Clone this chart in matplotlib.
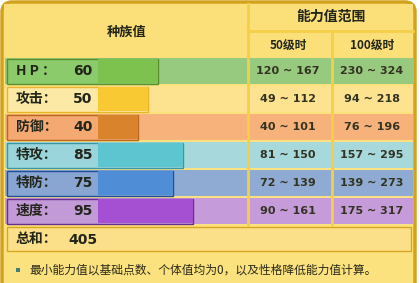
import matplotlib
matplotlib.use('Agg')
import matplotlib.pyplot as plt
from matplotlib.patches import FancyBboxPatch, Rectangle

plt.rcParams['font.family'] = ['Noto Sans CJK SC', 'DejaVu Sans']

# data
stat_labels = ['H P ：', '攻击：', '防御：', '特攻：', '特防：', '速度：']
base_stats = [60, 50, 40, 85, 75, 95]
lv50_min = [120, 49, 40, 81, 72, 90]
lv50_max = [167, 112, 101, 150, 139, 161]
lv100_min = [230, 94, 76, 157, 139, 175]
lv100_max = [324, 218, 196, 295, 273, 317]
header_left = '种族值'
header_right = '能力值范围'
sub_headers = ['50级时', '100级时']
total_label = '总和：'
note_text = '最小能力值以基础点数、个体值均为0，以及性格降低能力值计算。'

# colours per row: row background, label area, bar, bar border
row_bg = ['#97c97e', '#fde28f', '#f7b27c', '#a6d8dc', '#8faad3', '#c59bd9']
label_bg = ['#8ccb6c', '#fde9a6', '#f4a872', '#9ad5dc', '#89a6d2', '#c29ad8']
bar_col = ['#7dc24e', '#f8c932', '#d9842d', '#5cc5cf', '#4f8dd6', '#a550d2']
bar_edge = ['#5a8f2e', '#e8b42a', '#b8671c', '#3a98a6', '#1f4f9b', '#6a2d8f']

fig = plt.figure(figsize=(4.2, 2.83), dpi=100)
ax = fig.add_axes([0, 0, 1, 1])
ax.set_xlim(0, 420)
ax.set_ylim(283, 0)
ax.axis('off')

# outer frame
frame = FancyBboxPatch((2, 2), 413, 310, boxstyle='round,pad=0,rounding_size=10',
                       facecolor='#fce27e', edgecolor='#d3a21c', linewidth=2.5)
ax.add_patch(frame)
ax.add_patch(Rectangle((4, 4), 409, 54, facecolor='#fbdf78', edgecolor='none'))

line_col = '#f5cf4a'
bar_x0 = 98
ys = [71 + 28 * i for i in range(len(base_stats))]

# row backgrounds
ax.barh(ys, [243] * 6, left=5, height=26, color=row_bg, edgecolor='none')
ax.barh(ys, [83] * 6, left=249, height=26, color=row_bg, edgecolor='none')
ax.barh(ys, [80] * 6, left=333, height=26, color=row_bg, edgecolor='none')

# stat boxes and bars
ax.barh(ys, [v + (bar_x0 - 7) for v in base_stats], left=7, height=25,
        color=label_bg, edgecolor=bar_edge, linewidth=1)
ax.barh(ys, [v - 0.5 for v in base_stats], left=bar_x0, height=24,
        color=bar_col, edgecolor='none')

# header grid lines
ax.plot([248, 248], [4, 225], color=line_col, lw=2)
ax.plot([332, 332], [31, 225], color=line_col, lw=2)
ax.plot([248, 413], [31, 31], color=line_col, lw=2)

txt = '#22261a'
num_font = ['DejaVu Sans']
ax.text(127, 32, header_left, ha='center', va='center', fontsize=9.5, fontweight='bold', color=txt)
ax.text(331, 17, header_right, ha='center', va='center', fontsize=10, fontweight='bold', color=txt)
ax.text(288, 45, sub_headers[0], ha='center', va='center', fontsize=8.5, fontweight='bold', color=txt)
ax.text(372, 45, sub_headers[1], ha='center', va='center', fontsize=8.5, fontweight='bold', color=txt)

for i, y in enumerate(ys):
    ax.text(16, y, stat_labels[i], ha='left', va='center', fontsize=10, fontweight='bold', color=txt)
    ax.text(83, y, str(base_stats[i]), ha='center', va='center', fontsize=10, fontweight='bold',
            color=txt, family=num_font)
    ax.text(288, y, f'{lv50_min[i]} ~ {lv50_max[i]}', ha='center', va='center',
            fontsize=8, fontweight='bold', color='#333322', family=num_font)
    ax.text(372, y, f'{lv100_min[i]} ~ {lv100_max[i]}', ha='center', va='center',
            fontsize=8, fontweight='bold', color='#333322', family=num_font)

# total row
ax.add_patch(Rectangle((7, 227), 404, 24, facecolor='#fce089', edgecolor='#d9a521', linewidth=1))
ax.text(16, 239.5, total_label, ha='left', va='center', fontsize=10, fontweight='bold', color=txt)
ax.text(83, 239.5, str(sum(base_stats)), ha='center', va='center', fontsize=10, fontweight='bold',
        color=txt, family=num_font)

# note
ax.add_patch(Rectangle((16, 268), 4, 4, facecolor='#3f7f7a', edgecolor='none'))
ax.text(29, 270, note_text, ha='left', va='center', fontsize=8.5, color='#2a2a1a')

fig.savefig('out.png', dpi=100)
